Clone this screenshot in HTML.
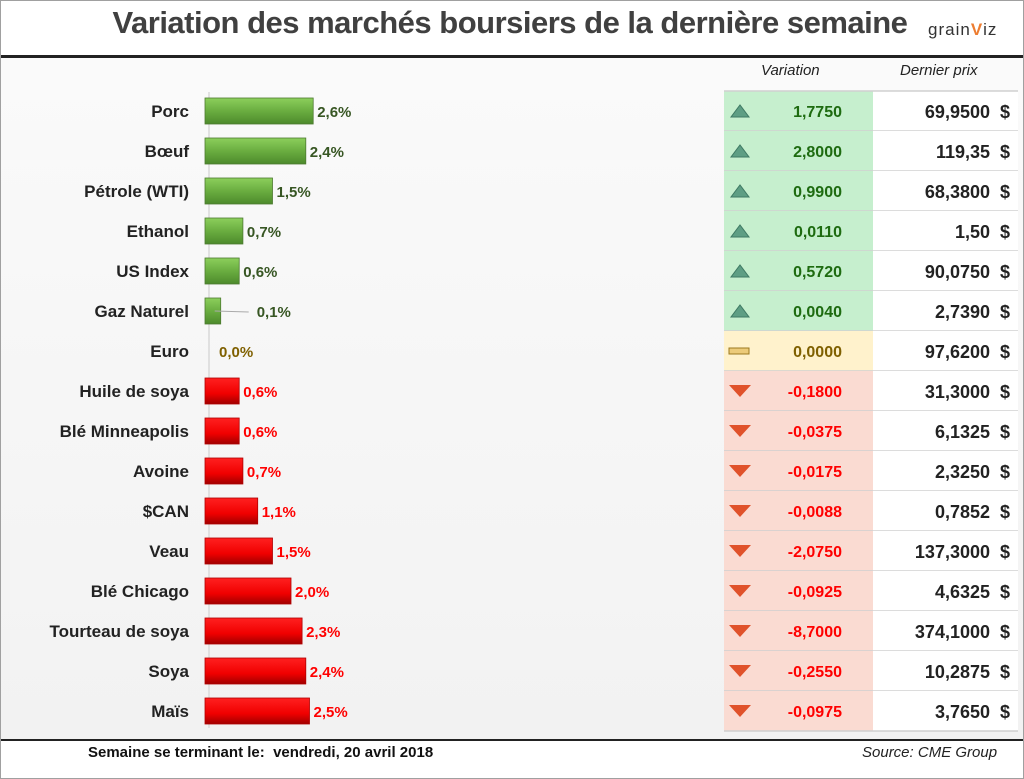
<!DOCTYPE html>
<html><head><meta charset="utf-8"><style>
body{margin:0;width:1024px;height:779px;overflow:hidden;background:#fff;font-family:"Liberation Sans",sans-serif}
#frame{position:absolute;left:0;top:0;width:1022px;height:777px;border:1px solid #a0a0a0}
#title{position:absolute;left:60px;top:5px;width:900px;text-align:center;font-size:31px;font-weight:bold;color:#404040;letter-spacing:-0.5px}
#logo{position:absolute;left:928px;top:20px;font-size:17px;color:#333;letter-spacing:1px}
#logo span{color:#ed7d31;font-weight:bold}
#tline{position:absolute;left:1px;top:55px;width:1022px;height:3px;background:#222}
#body{position:absolute;left:1px;top:58px;width:1022px;height:681px;background:linear-gradient(180deg,#fafafa,#f2f2f2)}
#fline{position:absolute;left:1px;top:739px;width:1022px;height:2px;background:#222}
.t{position:absolute;font-weight:bold;font-size:17px;white-space:nowrap}
.hdr{position:absolute;top:62px;font-style:italic;font-size:15px;color:#222}
</style></head><body>
<div id="frame"></div>
<div id="body"></div>
<div id="title">Variation des marchés boursiers de la dernière semaine</div>
<div id="logo">grain<span>V</span>iz</div>
<div id="tline"></div>
<div id="fline"></div>
<div class="hdr" style="left:761px">Variation</div>
<div class="hdr" style="left:900px">Dernier prix</div>
<div class="t" style="left:88px;top:744px;font-size:15px;color:#111">Semaine se terminant le:&nbsp; vendredi, 20 avril 2018</div>
<div class="t" style="left:862px;top:744px;font-size:15px;font-weight:normal;font-style:italic;color:#222">Source: CME Group</div>
<svg id="chart" width="1024" height="779" style="position:absolute;left:0;top:0">
<defs>
<linearGradient id="gg" x1="0" y1="0" x2="0" y2="1"><stop offset="0" stop-color="#8ccf5c"/><stop offset="0.5" stop-color="#6aad40"/><stop offset="1" stop-color="#4d8a2c"/></linearGradient>
<linearGradient id="rg" x1="0" y1="0" x2="0" y2="1"><stop offset="0" stop-color="#ff2020"/><stop offset="0.6" stop-color="#f00000"/><stop offset="1" stop-color="#a00000"/></linearGradient>
</defs>
</svg>
<script>
const categories=["Porc","Bœuf","Pétrole (WTI)","Ethanol","US Index","Gaz Naturel","Euro","Huile de soya","Blé Minneapolis","Avoine","$CAN","Veau","Blé Chicago","Tourteau de soya","Soya","Maïs"];
const pctValues=[2.6,2.4,1.5,0.7,0.6,0.1,0.0,-0.6,-0.6,-0.7,-1.1,-1.5,-2.0,-2.3,-2.4,-2.5];
const pctLabels=["2,6%","2,4%","1,5%","0,7%","0,6%","0,1%","0,0%","0,6%","0,6%","0,7%","1,1%","1,5%","2,0%","2,3%","2,4%","2,5%"];
const variations=["1,7750","2,8000","0,9900","0,0110","0,5720","0,0040","0,0000","-0,1800","-0,0375","-0,0175","-0,0088","-2,0750","-0,0925","-8,7000","-0,2550","-0,0975"];
const prices=["69,9500","119,35","68,3800","1,50","90,0750","2,7390","97,6200","31,3000","6,1325","2,3250","0,7852","137,3000","4,6325","374,1000","10,2875","3,7650"];
const NS="http://www.w3.org/2000/svg";
const svg=document.getElementById('chart');
const y=i=>111+i*40;
const w=v=>v===0?0:12+37*Math.abs(v);
const X0=205;
function mk(tag,a,parent){const e=document.createElementNS(NS,tag);for(const k in a)e.setAttribute(k,a[k]);(parent||svg).appendChild(e);return e;}
const bl=mk('line',{x1:209,x2:209,y1:92,y2:728,stroke:'#d9d9d9','stroke-width':1.5});


categories.forEach((c,i)=>{
  const v=pctValues[i],cy=y(i);
  const lab=mk('text',{x:189,y:cy+6,'text-anchor':'end','font-size':17,'font-weight':'bold',fill:'#222','font-family':'Liberation Sans, sans-serif'});
  lab.textContent=c;
  
  
  const bw=w(v);
  if(bw>0){
    const r=mk('rect',{x:X0,y:cy-13,width:bw,height:26,fill:v>0?'url(#gg)':'url(#rg)',stroke:v>0?'#4d7a30':'#b00000','stroke-width':0.8});
    
    
  }
  let lx=X0+bw+4, col=v>0?'#375623':(v<0?'#ff0000':'#7f6000');
  if(v===0) lx=X0+14;
  if(Math.abs(v)<0.2 && v!==0){ lx=X0+bw+36; mk('line',{x1:X0+bw-6,y1:cy,x2:X0+bw+28,y2:cy+1,stroke:'#aaa','stroke-width':1}); }
  const pl=mk('text',{x:lx,y:cy+6,'font-size':15,'font-weight':'bold',fill:col,'font-family':'Liberation Sans, sans-serif'});
  pl.textContent=pctLabels[i];
  
  
  const top=cy-20;
  const bg=v>0?'#c6efce':(v<0?'#fadbd2':'#fff2cc');
  const cell=mk('rect',{x:724,y:top,width:149,height:40,fill:bg});
  
  
  mk('rect',{x:873,y:top,width:145,height:40,fill:'#fff'});
  mk('line',{x1:724,x2:1018,y1:top+40,y2:top+40,stroke:'#d0d0d0','stroke-width':1.5});
  if(i===0) mk('line',{x1:724,x2:1018,y1:top,y2:top,stroke:'#d0d0d0','stroke-width':1.5});
  if(v>0) mk('polygon',{points:`731,${cy+6} 749,${cy+6} 740,${cy-6}`,fill:'#5e9e84',stroke:'#3f7a64'});
  else if(v<0) mk('polygon',{points:`729,${cy-6} 751,${cy-6} 740,${cy+6}`,fill:'#e0522b'});
  else mk('rect',{x:729,y:cy-3,width:20,height:6,fill:'#eccb7a',stroke:'#9c7a20'});
  const vt=mk('text',{x:842,y:cy+6,'text-anchor':'end','font-size':16,'font-weight':'bold',fill:v>0?'#1e6b10':(v<0?'#ff0000':'#7f6000'),'font-family':'Liberation Sans, sans-serif'});
  vt.textContent=variations[i];
  
  
  const pt=mk('text',{x:990,y:cy+7,'text-anchor':'end','font-size':18,'font-weight':'bold',fill:'#222','font-family':'Liberation Sans, sans-serif'});
  pt.textContent=prices[i];
  
  
  const ds=mk('text',{x:1000,y:cy+7,'font-size':18,'font-weight':'bold',fill:'#222','font-family':'Liberation Sans, sans-serif'});
  ds.textContent='$';
  
  
});
</script>
</body></html>
